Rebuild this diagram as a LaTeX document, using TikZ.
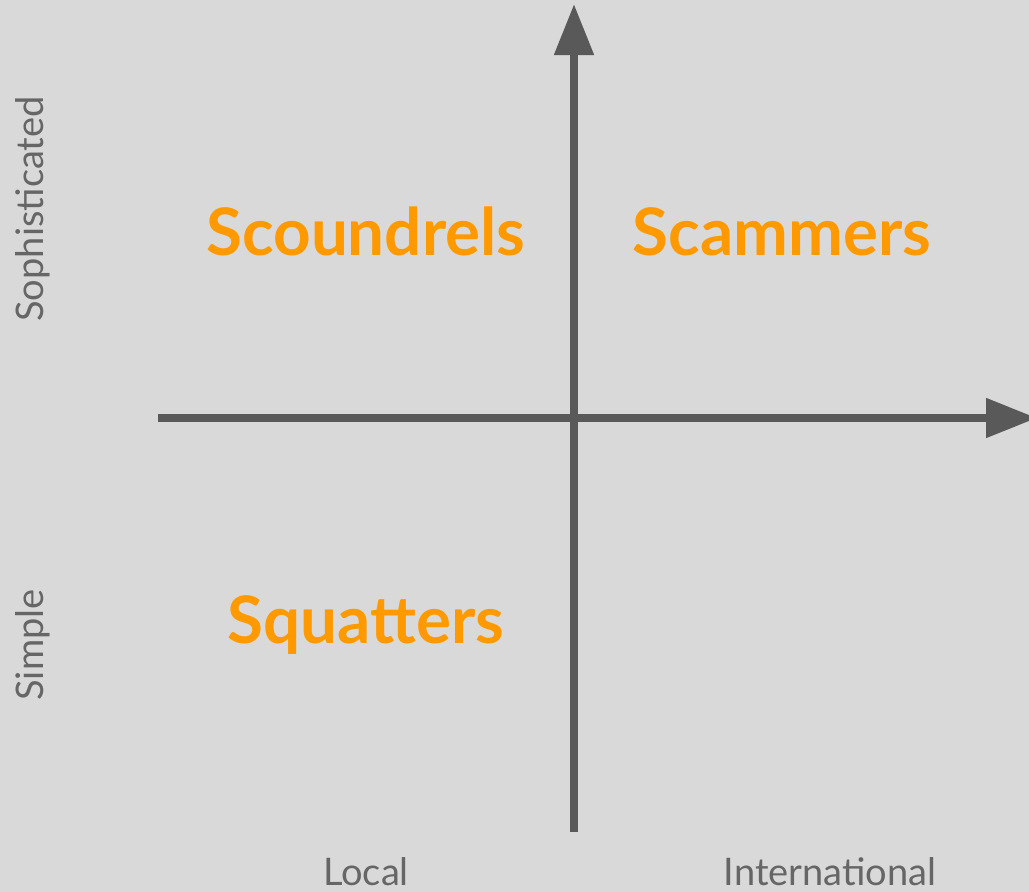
\documentclass[tikz,border=0pt]{standalone}
\usepackage{fontspec}
\setmainfont{Lato}
\usetikzlibrary{arrows.meta}
\definecolor{bg}{HTML}{D9D9D9}
\definecolor{axis}{HTML}{595959}
\definecolor{orng}{HTML}{FF9900}
\definecolor{lbl}{HTML}{666666}
\tikzset{
  axisline/.style={draw=axis, line width=8pt, -{Triangle[length=51pt,width=38pt]}},
  quad/.style={text=orng, font=\fontsize{65.5}{70}\selectfont\bfseries, anchor=base, inner sep=0pt},
  axlabel/.style={text=lbl, font=\fontsize{38}{42}\selectfont, anchor=base, inner sep=0pt},
}
\begin{document}
\begin{tikzpicture}[x=1pt,y=-1pt]
\fill[bg] (0,0) rectangle (1029,892);
\useasboundingbox (0,0) rectangle (1029,892);
\clip (0,0) rectangle (1029,892);
\coordinate (vbot) at (574,832);
\coordinate (vtop) at (574,4);
\coordinate (hleft) at (158,418);
\coordinate (hright) at (1037,418);
\draw[axisline] (vbot) -- (vtop);
\draw[axisline] (hleft) -- (hright);
\node[quad] (scoundrels) at (366,255) {Scoundrels};
\node[quad] (scammers) at (782,255) {Scammers};
\node[quad] (squatters) at (366,643) {Squatters};
\node[axlabel] (local) at (366,885) {Local};
\node[axlabel] (intl) at (830,885) {International};
\node[axlabel, rotate=90] (soph) at (43,209) {Sophisticated};
\node[axlabel, rotate=90] (simple) at (43,645) {Simple};
\end{tikzpicture}
\end{document}
